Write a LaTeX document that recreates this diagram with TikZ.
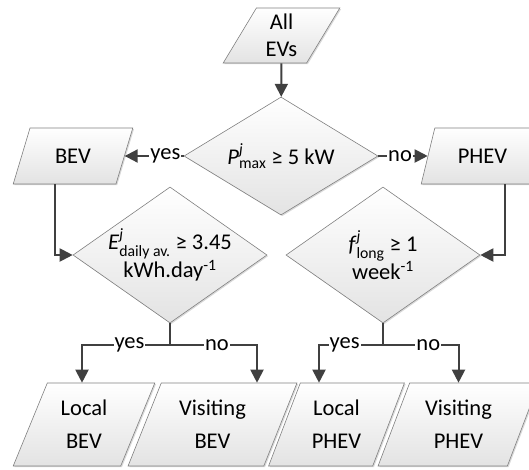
\documentclass[tikz,border=0pt]{standalone}
\usepackage{amsmath}
\usepackage{fontspec}
\setmainfont{Carlito}
\usetikzlibrary{shapes.geometric,arrows.meta,shadows}

\tikzset{
	iobox/.style={trapezium, trapezium left angle=64, trapezium right angle=116,
		trapezium stretches=true, draw=black!50, line width=0.6pt,
		top color=white, bottom color=black!11, inner sep=0pt, align=center,
		drop shadow={shadow xshift=1.2pt, shadow yshift=-1.2pt, opacity=0.3},
		font=\fontsize{22.5}{27}\selectfont},
	endbox/.style={iobox, trapezium left angle=66, trapezium right angle=114,
		font=\fontsize{22.5}{33}\selectfont},
	decision/.style={diamond, draw=black!50, line width=0.6pt,
		top color=white, bottom color=black!11, inner sep=0pt, align=center,
		drop shadow={shadow xshift=1.2pt, shadow yshift=-1.2pt, opacity=0.3},
		font=\fontsize{22.5}{27}\selectfont},
	link/.style={draw=black!75, line width=2pt},
	flow/.style={link, -{Triangle[length=13pt,width=13pt]}},
	answer/.style={fill=white, inner sep=1pt, font=\fontsize{22.5}{27}\selectfont}
}

\begin{document}
\begin{tikzpicture}[x=1pt, y=-1pt]

\useasboundingbox (0,0) rectangle (529,469);

\node[iobox, minimum width=117pt, minimum height=55pt] (all) at (281.5,35.5) {All\\EVs};
\node[decision, minimum width=194pt, minimum height=118pt, shape aspect=1.64] (pmax) at (281,156)
	{\textit{P}$^{\textit{j}}_{\text{max}}$ ≥ 5 kW};
\node[iobox, minimum width=120pt, minimum height=56pt] (bev) at (73,156) {BEV};
\node[iobox, minimum width=123pt, minimum height=56pt] (phev) at (482.5,156) {PHEV};

\node[decision, minimum width=194pt, minimum height=136pt, shape aspect=1.43, inner sep=-3pt] (eday) at (170,255)
	{\textit{E}$^{\textit{j}}_{\text{daily av.}}$ ≥ 3.45\\kWh.day$^{\text{-1}}$};
\node[decision, minimum width=194pt, minimum height=136pt, shape aspect=1.43] (flong) at (383,255)
	{\textit{f}$^{\textit{j}}_{\text{long}}$ ≥ 1\\week$^{\text{-1}}$};

\node[endbox, minimum width=142pt, minimum height=83pt] (lbev) at (84,424.5) {Local\\BEV};
\node[endbox, minimum width=169pt, minimum height=83pt] (vbev) at (212.5,424.5) {Visiting\\BEV};
\node[endbox, minimum width=137pt, minimum height=83pt] (lphev) at (336.5,424.5) {Local\\PHEV};
\node[endbox, minimum width=161pt, minimum height=83pt] (vphev) at (458.5,424.5) {Visiting\\PHEV};

\draw[flow] (all) -- (pmax);
\draw[flow] (pmax.west) -- node[answer, pos=0.31] {yes} (pmax.west -| bev.east);
\draw[flow] (pmax.east) -- node[answer, pos=0.44] {no} (pmax.east -| phev.west);
\draw[flow] ([xshift=-18pt]bev.south) |- (eday.west);
\draw[flow] ([xshift=22.5pt]phev.south) |- (flong.east);

\draw[link] (eday.south) -- ++(0,22) coordinate (esplit);
\draw[flow] (esplit) -| node[answer, pos=0.23] {yes} ([xshift=-2pt]lbev.north);
\draw[flow] (esplit) -| node[answer, pos=0.27] {no} ([xshift=44.5pt]vbev.north);
\draw[link] (flong.south) -- ++(0,22) coordinate (fsplit);
\draw[flow] (fsplit) -| node[answer, pos=0.3] {yes} ([xshift=-17.5pt]lphev.north);
\draw[flow] (fsplit) -| node[answer, pos=0.3] {no} (vphev.north);

\end{tikzpicture}
\end{document}
